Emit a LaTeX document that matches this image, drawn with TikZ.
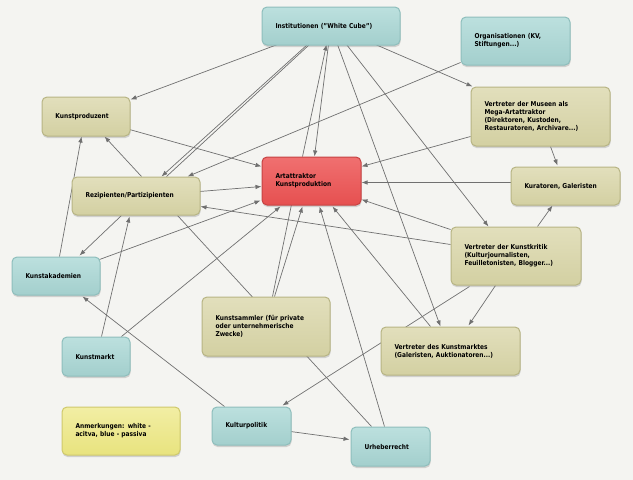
\documentclass[tikz,border=0pt]{standalone}
\usepackage{fontspec}
\setmainfont{DejaVu Sans}[FakeStretch=0.88]
\usetikzlibrary{arrows.meta,shadows,calc,backgrounds}
\definecolor{bg}{HTML}{F4F4F1}
\definecolor{tealT}{HTML}{BCE0DE}
\definecolor{tealB}{HTML}{A3CFCD}
\definecolor{tealD}{HTML}{8EBEBC}
\definecolor{oliveT}{HTML}{E2DFBC}
\definecolor{oliveB}{HTML}{D3D0A2}
\definecolor{oliveD}{HTML}{B7B484}
\definecolor{redT}{HTML}{F07070}
\definecolor{redB}{HTML}{E65050}
\definecolor{redD}{HTML}{C64343}
\definecolor{yelT}{HTML}{F2EEA4}
\definecolor{yelB}{HTML}{E8E37E}
\definecolor{yelD}{HTML}{CFC96C}
\definecolor{edgecol}{HTML}{707070}
\newcommand\boxfont{\fontsize{6.7}{8}\selectfont\bfseries}
\tikzset{
  box/.style={rounded corners=5pt, line width=1pt, align=left, inner xsep=13.5pt,
    inner ysep=0pt, font=\boxfont, text=black,
    drop shadow={shadow xshift=0.5pt, shadow yshift=-2pt, opacity=0.3}},
  tealbox/.style={box, draw=tealD, top color=tealT, bottom color=tealB},
  olivebox/.style={box, draw=oliveD, top color=oliveT, bottom color=oliveB},
  redbox/.style={box, draw=redD, top color=redT, bottom color=redB},
  yelbox/.style={box, draw=yelD, top color=yelT, bottom color=yelB},
  conn/.style={draw=edgecol, line width=0.7pt, -{Latex[length=6pt,width=4.5pt]}},
  plain/.style={draw=edgecol, line width=0.7pt},
}
\begin{document}
\begin{tikzpicture}[x=1pt,y=-1pt]
\useasboundingbox (0,0) rectangle (633,480);

\node[tealbox, text width=111pt, minimum height=38pt] (inst) at (331,26) {Institutionen (\char34 White Cube\char34)};
\node[tealbox, text width=82pt, minimum height=48pt] (org) at (515.5,41) {Organisationen (KV,\\Stiftungen...)};
\node[olivebox, text width=61pt, minimum height=39pt] (kp) at (86,116.5) {Kunstproduzent};
\node[olivebox, text width=112pt, minimum height=59pt] (mus) at (540.5,116.5) {Vertreter der Museen als\\Mega-Artattraktor\\(Direktoren, Kustoden,\\Restauratoren, Archivare...)};
\node[redbox, text width=72pt, minimum height=48pt] (art) at (311.5,181) {Artattraktor\\Kunstproduktion};
\node[olivebox, text width=101pt, minimum height=38pt] (rez) at (136,196) {Rezipienten/Partizipienten};
\node[olivebox, text width=82pt, minimum height=38pt] (kur) at (565.5,186) {Kuratoren, Galeristen};
\node[olivebox, text width=103pt, minimum height=58pt] (krit) at (516,256) {Vertreter der Kunstkritik\\(Kulturjournalisten,\\Feuilletonisten, Blogger...)};
\node[tealbox, text width=61pt, minimum height=38pt] (akad) at (56,276) {Kunstakademien};
\node[olivebox, text width=101pt, minimum height=59pt] (sam) at (266,326.5) {Kunstsammler (für private\\oder unternehmerische\\Zwecke)};
\node[tealbox, text width=41pt, minimum height=39pt] (km) at (96,356.5) {Kunstmarkt};
\node[olivebox, text width=112pt, minimum height=48pt] (kmt) at (450.5,351) {Vertreter des Kunstmarktes\\(Galeristen, Auktionatoren...)};
\node[yelbox, text width=91pt, minimum height=48pt] (anm) at (121,431) {Anmerkungen: white -\\acitva, blue - passiva};
\node[tealbox, text width=52pt, minimum height=38pt] (kult) at (251.5,426) {Kulturpolitik};
\node[tealbox, text width=52pt, minimum height=39pt] (urh) at (390.5,446.5) {Urheberrecht};

\begin{scope}[on background layer]
\fill[bg] (0,0) rectangle (633,480);
\draw[conn] ([shift={(16,38)}]inst.north west) -- ([shift={(89,3)}]kp.north west);
\draw[conn] ([shift={(46,38)}]inst.north west) -- ([shift={(90,0)}]rez.north west);
\draw[plain] ([shift={(95,0)}]rez.north west) -- ([shift={(48,38)}]inst.north west);
\draw[conn] ([shift={(41,0)}]art.north west) -- ([shift={(65,38)}]inst.north west);
\draw[conn] ([shift={(67,38)}]inst.north west) -- ([shift={(53,0)}]art.north west);
\draw[conn] ([shift={(114,38)}]inst.north west) -- ([shift={(2,0)}]mus.north west);
\draw[conn] ([shift={(85,38)}]inst.north west) -- ([shift={(38,0)}]krit.north west);
\draw[conn] ([shift={(76,38)}]inst.north west) -- ([shift={(60,0)}]kmt.north west);
\draw[conn] ([shift={(0,46)}]org.north west) -- ([shift={(116,0)}]rez.north west);
\draw[conn] ([shift={(88,33)}]kp.north west) -- ([shift={(0,10)}]art.north west);
\draw[conn] ([shift={(70,0)}]rez.north west) -- ([shift={(63,40)}]kp.north west);
\draw[conn] ([shift={(128,15)}]rez.north west) -- ([shift={(0,30)}]art.north west);
\draw[conn] ([shift={(0,18)}]krit.north west) -- ([shift={(129,30)}]rez.north west);
\draw[conn] ([shift={(0,3)}]krit.north west) -- ([shift={(100,43)}]art.north west);
\draw[conn] ([shift={(0,16)}]kur.north west) -- ([shift={(100,26)}]art.north west);
\draw[conn] ([shift={(0,50)}]mus.north west) -- ([shift={(100,10)}]art.north west);
\draw[conn] ([shift={(80,60)}]mus.north west) -- ([shift={(47,-1)}]kur.north west);
\draw[conn] ([shift={(87,0)}]krit.north west) -- ([shift={(42,39)}]kur.north west);
\draw[conn] ([shift={(45,59)}]krit.north west) -- ([shift={(88,-1)}]kmt.north west);
\draw[conn] ([shift={(19,60)}]krit.north west) -- ([shift={(71,-1)}]kult.north west);
\draw[conn] ([shift={(50,0)}]kmt.north west) -- ([shift={(71,50)}]art.north west);
\draw[conn] ([shift={(34,0)}]urh.north west) -- ([shift={(58,50)}]art.north west);
\draw[plain] ([shift={(106,39)}]rez.north west) -- ([shift={(21,0)}]urh.north west);
\draw[conn] ([shift={(73,0)}]sam.north west) -- ([shift={(41,50)}]art.north west);
\draw[plain] ([shift={(71,0)}]sam.north west) -- ([shift={(30,48)}]art.north west);
\draw[conn] ([shift={(60,0)}]km.north west) -- ([shift={(19,50)}]art.north west);
\draw[conn] ([shift={(88,3)}]akad.north west) -- ([shift={(-1,44)}]art.north west);
\draw[conn] ([shift={(48,0)}]akad.north west) -- ([shift={(40,40)}]kp.north west);
\draw[conn] ([shift={(50,39)}]rez.north west) -- ([shift={(68,-1)}]akad.north west);
\draw[conn] ([shift={(40,0)}]km.north west) -- ([shift={(58,40)}]rez.north west);
\draw[conn] ([shift={(13,0)}]kult.north west) -- ([shift={(71,40)}]akad.north west);
\draw[conn] ([shift={(79,25)}]kult.north west) -- ([shift={(-1,13)}]urh.north west);
\end{scope}
\end{tikzpicture}
\end{document}
